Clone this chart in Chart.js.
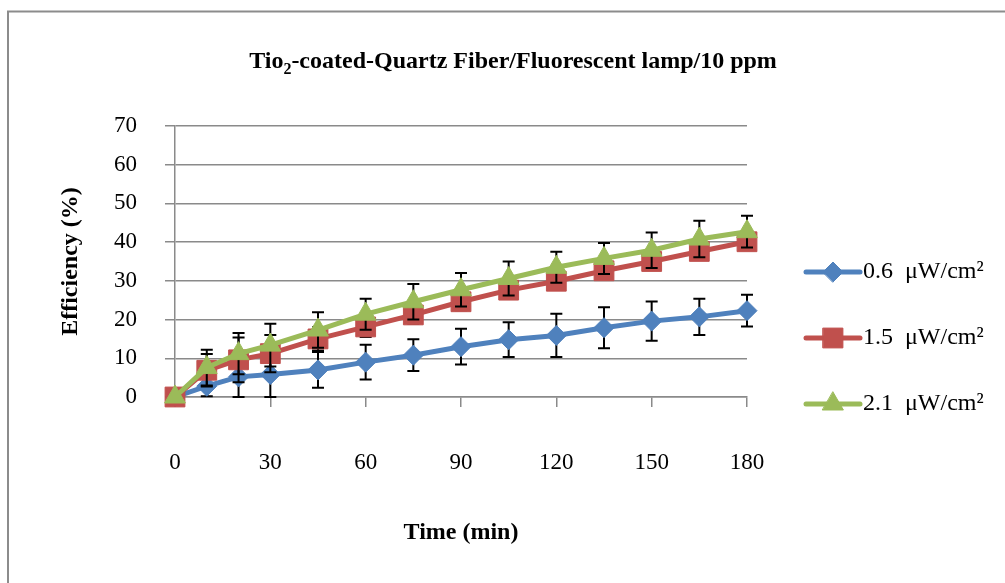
<!DOCTYPE html>
<html lang="en">
<head>
<meta charset="UTF-8">
<title>TiO2 coated quartz fiber efficiency</title>
<script src="https://cdn.jsdelivr.net/npm/chart.js"></script>
<style>
  body { margin: 0; background: #fff; }
  canvas { display: block; }
</style>
</head>
<body>
<canvas id="effChart" width="1005" height="583"></canvas>
<script>
// time points (min)
const times = [0, 10, 20, 30, 45, 60, 75, 90, 105, 120, 135, 150, 165, 180];

// efficiency (%) and error (+/-) for each light intensity
const eff06 = [0, 2.8, 5.2, 5.8, 7.0, 9.0, 10.8, 13.0, 14.8, 15.9, 17.9, 19.6, 20.7, 22.3];
const err06 = [0, 2.6, 5.4, 5.8, 4.6, 4.5, 4.1, 4.6, 4.5, 5.6, 5.3, 5.1, 4.7, 4.1];
const eff15 = [0, 6.9, 9.6, 11.2, 15.0, 18.1, 21.2, 24.6, 27.6, 29.9, 32.6, 35.0, 37.6, 40.1];
const err15 = [0, 4.2, 5.8, 4.8, 3.0, 2.6, 2.3, 2.2, 2.0, 2.0, 2.0, 2.0, 2.0, 2.0];
const eff21 = [0, 7.6, 11.2, 13.4, 17.3, 21.4, 24.6, 27.7, 30.6, 33.5, 35.8, 37.9, 40.8, 42.7];
const err21 = [0, 4.6, 5.3, 5.5, 4.6, 4.0, 4.6, 4.3, 4.4, 4.0, 4.0, 4.6, 4.7, 4.1];

const seriesNames = ['0.6  \u03bcW/cm\u00b2', '1.5  \u03bcW/cm\u00b2', '2.1  \u03bcW/cm\u00b2'];

const SERIF = '"Liberation Serif", "Times New Roman", serif';
const GRID = '#8a8a8a';

function pts(vals) {
    return times.map((t, i) => ({ x: t, y: vals[i] }));
}

// page frame + title with subscript
const frame = {
    id: 'frame',
    beforeDraw(chart) {
        const ctx = chart.ctx;
        ctx.save();
        ctx.fillStyle = '#fff';
        ctx.fillRect(0, 0, chart.width, chart.height);
        ctx.strokeStyle = '#8c8c8c';
        ctx.lineWidth = 2;
        ctx.beginPath();
        ctx.moveTo(8, 583); ctx.lineTo(8, 11.5); ctx.lineTo(1005, 11.5);
        ctx.stroke();

        const big = 'bold 24px ' + SERIF, small = 'bold 16px ' + SERIF;
        const a = 'Tio', b = '2', c = '-coated-Quartz Fiber/Fluorescent lamp/10 ppm';
        ctx.font = big; const wa = ctx.measureText(a).width, wc = ctx.measureText(c).width;
        ctx.font = small; const wb = ctx.measureText(b).width;
        let x = 513 - (wa + wb + wc) / 2;
        const base = 68;
        ctx.fillStyle = '#000';
        ctx.textBaseline = 'alphabetic';
        ctx.textAlign = 'left';
        ctx.font = big; ctx.fillText(a, x, base); x += wa;
        ctx.font = small; ctx.fillText(b, x, base + 6); x += wb;
        ctx.font = big; ctx.fillText(c, x, base);
        ctx.restore();
    }
};

// vertical error bars, drawn under each series' own line and markers
const errorBars = {
    id: 'errorBars',
    beforeDatasetDraw(chart, args) {
        const ds = chart.data.datasets[args.index];
        if (!ds.errors) return;
        const yScale = chart.scales.y;
        const ctx = chart.ctx;
        ctx.save();
        ctx.strokeStyle = '#000';
        ctx.lineWidth = 2;
        args.meta.data.forEach((p, i) => {
            const e = ds.errors[i];
            if (!e) return;
            const v = ds.data[i].y;
            const top = yScale.getPixelForValue(v + e);
            const bot = yScale.getPixelForValue(Math.max(v - e, 0));
            ctx.beginPath();
            ctx.moveTo(p.x, top); ctx.lineTo(p.x, bot);
            ctx.moveTo(p.x - 6, top); ctx.lineTo(p.x + 6, top);
            ctx.moveTo(p.x - 6, bot); ctx.lineTo(p.x + 6, bot);
            ctx.stroke();
        });
        ctx.restore();
    }
};

// Excel style legend: line sample with marker in the middle
const sideLegend = {
    id: 'sideLegend',
    afterDraw(chart) {
        const ctx = chart.ctx;
        ctx.save();
        chart.data.datasets.forEach((ds, i) => {
            const y = 272 + i * 66;
            ctx.strokeStyle = ds.borderColor;
            ctx.lineWidth = 5;
            ctx.lineCap = 'round';
            ctx.beginPath();
            ctx.moveTo(806, y); ctx.lineTo(860, y);
            ctx.stroke();
            ctx.fillStyle = ds.backgroundColor;
            ctx.lineWidth = 1;
            Chart.helpers.drawPoint(ctx, { pointStyle: ds.pointStyle, radius: ds.pointRadius, borderWidth: 1, rotation: 0 }, 833, y);
            ctx.fillStyle = '#000';
            ctx.font = '24px ' + SERIF;
            ctx.textBaseline = 'middle';
            ctx.fillText(ds.label, 863, y);
        });
        ctx.restore();
    }
};

new Chart(document.getElementById('effChart'), {
    type: 'line',
    data: {
        datasets: [
            {
                label: seriesNames[0], data: pts(eff06), errors: err06,
                borderColor: '#4F81BD', backgroundColor: '#4F81BD',
                pointStyle: 'rectRot', pointRadius: 10, order: 3
            },
            {
                label: seriesNames[1], data: pts(eff15), errors: err15,
                borderColor: '#C0504D', backgroundColor: '#C0504D',
                pointStyle: 'rect', pointRadius: 14, order: 2
            },
            {
                label: seriesNames[2], data: pts(eff21), errors: err21,
                borderColor: '#9BBB59', backgroundColor: '#9BBB59',
                pointStyle: 'triangle', pointRadius: 12, order: 1
            }
        ]
    },
    options: {
        responsive: false,
        animation: false,
        clip: false,
        elements: {
            line: { borderWidth: 5, tension: 0 },
            point: { borderWidth: 1, hoverRadius: 10 }
        },
        layout: { padding: { top: 126, left: 9, right: 258, bottom: 8 } },
        plugins: {
            legend: { display: false },
            tooltip: { enabled: false }
        },
        scales: {
            x: {
                type: 'linear',
                min: 0, max: 180,
                afterFit(s) { s.height = 178; },
                ticks: { stepSize: 30, padding: 42, color: '#000', font: { family: SERIF, size: 23 } },
                grid: { drawOnChartArea: false, tickLength: 10, color: GRID, lineWidth: 1.5 },
                border: { color: GRID, width: 1.5 },
                title: { display: true, text: 'Time (min)', color: '#000', padding: { top: 0, bottom: 28 },
                         font: { family: SERIF, size: 24, weight: 'bold' } }
            },
            y: {
                min: 0, max: 70,
                afterFit(s) { s.width = 166; },
                ticks: { stepSize: 10, padding: 28, color: '#000', font: { family: SERIF, size: 23 } },
                grid: { tickLength: 10, color: GRID, lineWidth: 1.5 },
                border: { color: GRID, width: 1.5 },
                title: { display: true, text: 'Efficiency (%)', color: '#000', padding: { top: 47, bottom: 0 },
                         font: { family: SERIF, size: 24, weight: 'bold' } }
            }
        }
    },
    plugins: [frame, errorBars, sideLegend]
});
</script>
</body>
</html>
